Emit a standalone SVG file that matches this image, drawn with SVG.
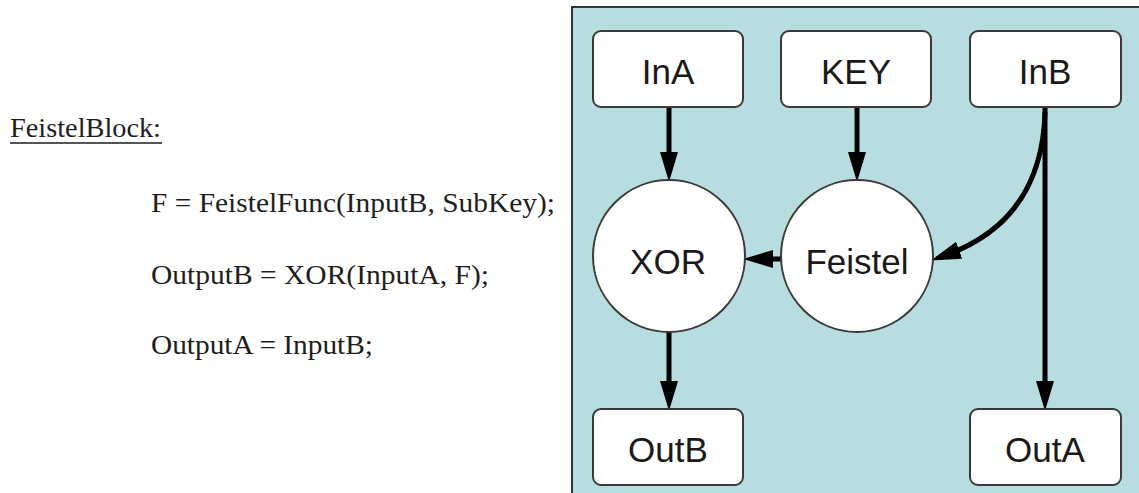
<svg xmlns="http://www.w3.org/2000/svg" width="1139" height="493" viewBox="0 0 1139 493">
  <style>
    .code { font-family: "Liberation Serif", "Times New Roman", serif; font-size: 27px; fill: #1e1e1e; }
    .box { fill: #ffffff; stroke: #3a3a3a; stroke-width: 2; }
    .lbl { font-family: "Liberation Sans", Arial, sans-serif; font-size: 35px; fill: #1a1a1a; text-anchor: middle; }
    .edge { fill: none; stroke: #000; stroke-width: 5; marker-end: url(#ah); }
  </style>
  <defs>
    <marker id="ah" viewBox="0 0 30 18" markerWidth="30" markerHeight="18" refX="14" refY="9" markerUnits="userSpaceOnUse" orient="auto">
      <path d="M0,0 L30,9 L0,18 z" fill="#000"/>
    </marker>
  </defs>
  <rect width="1139" height="493" fill="#ffffff"/>

  <g id="code">
    <text class="code" x="10" y="137" textLength="151" lengthAdjust="spacingAndGlyphs">FeistelBlock:</text>
    <line x1="10" y1="143" x2="162" y2="143" stroke="#1e1e1e" stroke-width="1.5"/>
    <text class="code" x="151" y="212" textLength="404" lengthAdjust="spacingAndGlyphs">F = FeistelFunc(InputB, SubKey);</text>
    <text class="code" x="151" y="284" textLength="338" lengthAdjust="spacingAndGlyphs">OutputB = XOR(InputA, F);</text>
    <text class="code" x="151" y="354" textLength="222" lengthAdjust="spacingAndGlyphs">OutputA = InputB;</text>
  </g>

  <rect id="panel" x="572" y="7" width="600" height="500" fill="#b8dde1" stroke="#333" stroke-width="2"/>

  <g id="connectors">
    <path class="edge" d="M669,107 L669,166"/>
    <path class="edge" d="M857,107 L857,166"/>
    <path class="edge" d="M781,259 L759,259"/>
    <path class="edge" d="M1045,107 L1045,395"/>
    <path class="edge" d="M669,332 L669,395"/>
    <path class="edge" d="M1045,112 C1043,185 1010,232 946,255"/>
  </g>

  <g id="InA">
    <rect class="box" x="593" y="31" width="150" height="76" rx="8"/>
    <text class="lbl" x="668" y="84">InA</text>
  </g>
  <g id="KEY">
    <rect class="box" x="781" y="31" width="150" height="76" rx="8"/>
    <text class="lbl" x="856" y="84">KEY</text>
  </g>
  <g id="InB">
    <rect class="box" x="970" y="31" width="151" height="76" rx="8"/>
    <text class="lbl" x="1045" y="84">InB</text>
  </g>
  <g id="XOR">
    <circle class="box" cx="669" cy="256" r="76"/>
    <text class="lbl" x="668" y="274">XOR</text>
  </g>
  <g id="Feistel">
    <circle class="box" cx="857" cy="256" r="76"/>
    <text class="lbl" x="857" y="274">Feistel</text>
  </g>
  <g id="OutB">
    <rect class="box" x="593" y="409" width="150" height="76" rx="8"/>
    <text class="lbl" x="668" y="462">OutB</text>
  </g>
  <g id="OutA">
    <rect class="box" x="970" y="409" width="151" height="76" rx="8"/>
    <text class="lbl" x="1045" y="462">OutA</text>
  </g>
</svg>
